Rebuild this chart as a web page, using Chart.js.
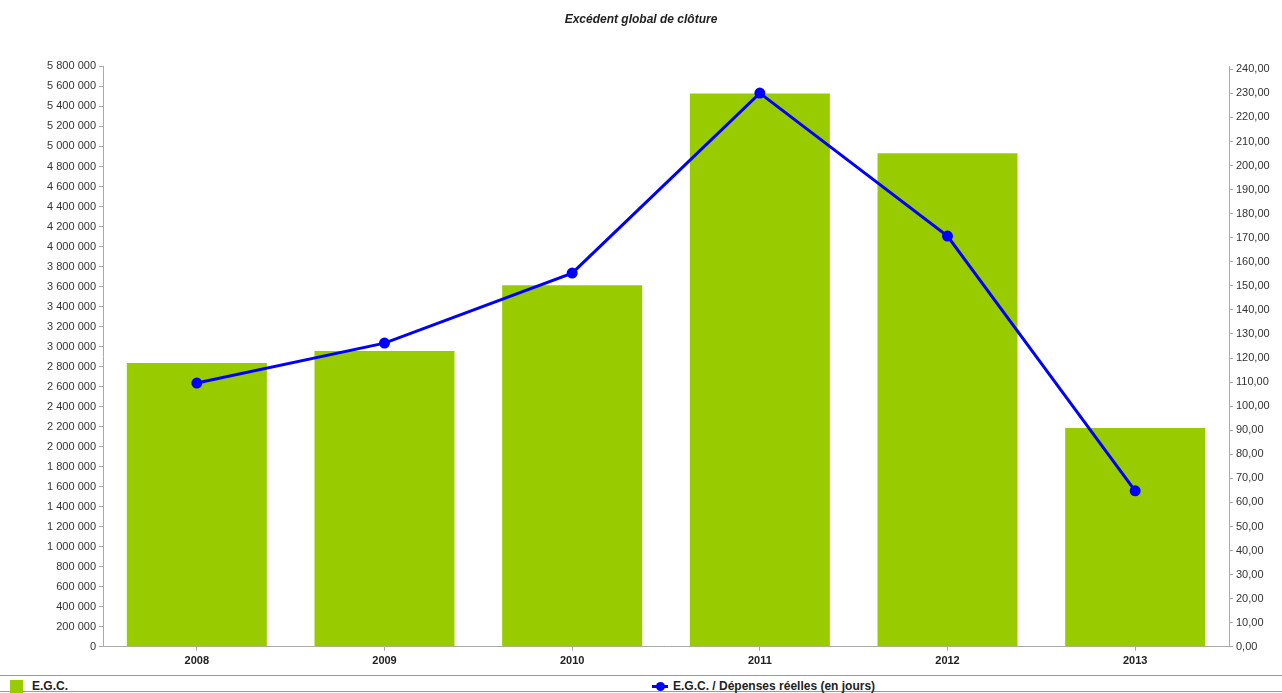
<!DOCTYPE html>
<html>
<head>
  <title>Excédent global de clôture</title>
  <script src="https://cdn.jsdelivr.net/npm/chart.js"></script>
  <style>
    body { margin: 0; background: #fff; font-family: "Liberation Sans", Arial, sans-serif; }
    #wrap { position: relative; width: 1282px; height: 693px; overflow: hidden; }
    #legend { position: absolute; left: 0; top: 675px; width: 1282px; height: 15px;
      border-top: 1px solid #999; border-bottom: 1px solid #999; }
    .item { position: absolute; top: 3px; font-size: 12px; font-weight: bold; color: #222; line-height: 14px; }
    .sq { position: absolute; left: -22px; top: 1px; width: 13px; height: 13px; background: #99cc00; }
    .ln { position: absolute; left: -21px; top: 6px; width: 16px; height: 3px; background: #0000ff; }
    .dot { position: absolute; left: -17px; top: 3px; width: 9px; height: 9px; border-radius: 50%; background: #0000ff; }
  </style>
</head>
<body>
  <div id="wrap">
    <canvas id="chart" width="1282" height="672"></canvas>
    <div id="legend">
      <div class="item" style="left:32px"><span class="sq"></span>E.G.C.</div>
      <div class="item" style="left:673px"><span class="ln"></span><span class="dot"></span>E.G.C. / Dépenses réelles (en jours)</div>
    </div>
  </div>

  <script>
    // données
    const annees = ['2008', '2009', '2010', '2011', '2012', '2013'];
    const egc = [2835000, 2955000, 3614000, 5530000, 4932000, 2186000];
    const egcJours = [109.6, 126.2, 155.3, 230.1, 170.7, 64.8];

    function espaces(v) {
      return String(Math.round(v)).replace(/\B(?=(\d{3})+(?!\d))/g, ' ');
    }

    const police = { family: '"Liberation Sans", Arial, sans-serif', size: 11 };

    new Chart(document.getElementById('chart'), {
      data: {
        labels: annees,
        datasets: [{
          type: 'line',
          label: 'E.G.C. / Dépenses réelles (en jours)',
          data: egcJours,
          yAxisID: 'y2',
          borderColor: '#0000ff',
          backgroundColor: '#0000ff',
          borderWidth: 3,
          pointRadius: 4,
          tension: 0,
          order: 0
        }, {
          type: 'bar',
          label: 'E.G.C.',
          data: egc,
          yAxisID: 'y',
          backgroundColor: '#99cc00',
          barPercentage: 0.746,
          categoryPercentage: 1,
          order: 1
        }]
      },
      options: {
        responsive: false,
        animation: false,
        layout: { padding: 0 },
        plugins: {
          legend: { display: false },
          tooltip: { enabled: false },
          title: {
            display: true,
            text: 'Excédent global de clôture',
            color: '#222',
            font: { family: police.family, size: 12, style: 'italic', weight: 'bold' },
            padding: { top: 12, bottom: 40 }
          }
        },
        scales: {
          x: {
            offset: true,
            grid: { drawOnChartArea: false, offset: false, tickLength: 4, color: '#aaa' },
            border: { color: '#aaa' },
            ticks: { color: '#222', font: { family: police.family, size: 11, weight: 'bold' }, padding: 4 }
          },
          y: {
            position: 'left',
            min: 0,
            max: 5800000,
            ticks: { stepSize: 200000, color: '#333', font: police, padding: 3, callback: v => espaces(v) },
            grid: { drawOnChartArea: false, tickLength: 4, color: '#aaa' },
            border: { color: '#aaa' },
            afterFit: s => { s.width = 103; }
          },
          y2: {
            position: 'right',
            min: 0,
            max: 241.2,
            ticks: { color: '#333', font: police, padding: 3,
              callback: v => v.toFixed(2).replace('.', ',') },
            afterBuildTicks: s => {
              const t = [];
              for (let v = 0; v <= 240; v += 10) t.push({ value: v });
              s.ticks = t;
            },
            grid: { drawOnChartArea: false, tickLength: 4, color: '#aaa' },
            border: { color: '#aaa' },
            afterFit: s => { s.width = 53; }
          }
        }
      }
    });
  </script>
</body>
</html>
